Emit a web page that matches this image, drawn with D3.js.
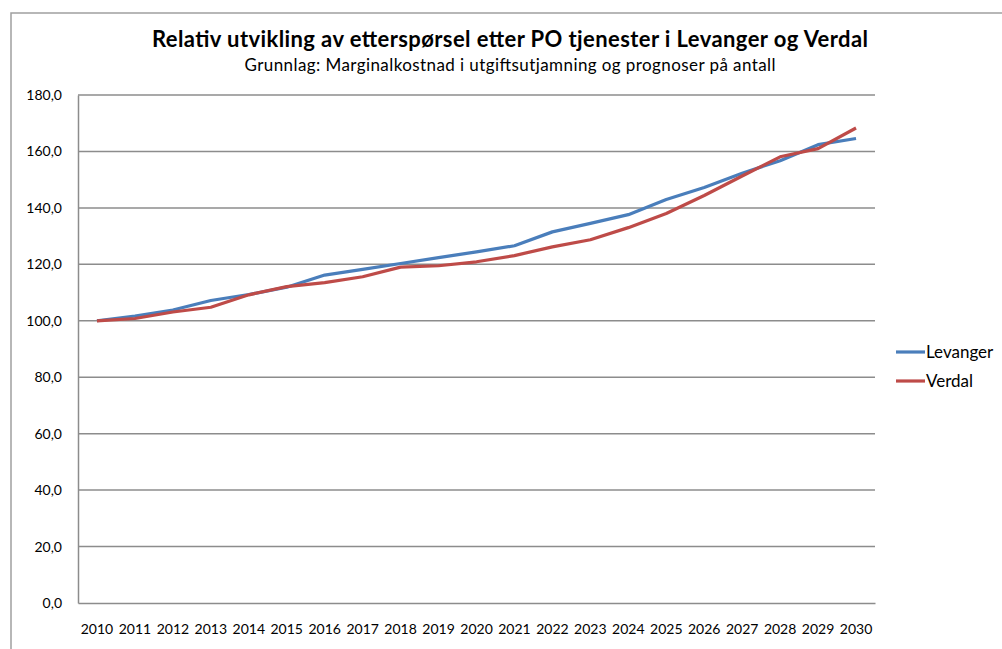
<!DOCTYPE html>
<html>
<head>
<meta charset="utf-8">
<script src="https://cdn.jsdelivr.net/npm/d3@7"></script>
<style>
  body { margin: 0; background: #fff; }
  text { font-family: Lato, "Open Sans", sans-serif; }
</style>
</head>
<body>
<svg width="1002" height="649"></svg>
<script>
// data (index, base 2010 = 100)
var years = ["2010","2011","2012","2013","2014","2015","2016","2017","2018","2019","2020",
             "2021","2022","2023","2024","2025","2026","2027","2028","2029","2030"];
var levanger = [100, 101.7, 103.8, 107.2, 109.3, 111.9, 116.2, 118.2, 120.3, 122.4, 124.4,
                126.6, 131.5, 134.5, 137.6, 143.0, 147.2, 152.3, 156.7, 162.4, 164.6];
var verdal = [100, 100.8, 103.1, 104.8, 109.2, 112.1, 113.5, 115.6, 119.0, 119.5, 120.9,
              123.1, 126.2, 128.7, 133.0, 138.0, 144.4, 151.3, 158.1, 161.0, 168.3];
var yTicks = [0, 20, 40, 60, 80, 100, 120, 140, 160, 180];
var seriesNames = ["Levanger", "Verdal"];
var colors = ["#4a7ebb", "#be4b48"];

var svg = d3.select("svg");
var plotLeft = 78, plotRight = 875, plotTop = 95, plotBottom = 603;

// outer chart frame (runs off the picture right/bottom)
svg.append("path")
    .attr("d", "M11,660 L11,13 L1010,13")
    .attr("fill", "none")
    .attr("stroke", "#a0a0a0")
    .attr("stroke-width", 1.5);

var x = d3.scaleBand().domain(years).range([plotLeft, plotRight]);
var y = d3.scaleLinear().domain([0, 180]).range([plotBottom, plotTop]);

var fmt = function(d) { return d3.format(".1f")(d).replace(".", ","); };

// gridlines
svg.append("g")
  .selectAll("line")
  .data(yTicks.filter(function(d) { return d > 0; }))
  .enter().append("line")
    .attr("x1", plotLeft).attr("x2", plotRight)
    .attr("y1", function(d) { return y(d); })
    .attr("y2", function(d) { return y(d); })
    .attr("stroke", "#8c8c8c")
    .attr("stroke-width", 1.5);

// y axis
var yAxis = svg.append("g")
    .attr("transform", "translate(" + plotLeft + ",0)")
    .call(d3.axisLeft(y).tickValues(yTicks).tickFormat(fmt).tickSize(0).tickPadding(16));
yAxis.select(".domain").attr("stroke", "#8c8c8c").attr("stroke-width", 1.5);
yAxis.selectAll("text").attr("font-size", 14).attr("fill", "#000");

// x axis
var xAxis = svg.append("g")
    .attr("transform", "translate(0," + plotBottom + ")")
    .call(d3.axisBottom(x).tickSize(0).tickPadding(21));
xAxis.select(".domain").attr("stroke", "#8c8c8c").attr("stroke-width", 1.5);
xAxis.selectAll("text").attr("font-size", 14).attr("fill", "#000");

// lines
var line = d3.line()
    .x(function(d, i) { return x(years[i]) + x.bandwidth() / 2; })
    .y(function(d) { return y(d); });

[levanger, verdal].forEach(function(s, i) {
  svg.append("path")
      .datum(s)
      .attr("fill", "none")
      .attr("stroke", colors[i])
      .attr("stroke-width", 3.2)
      .attr("stroke-linejoin", "round")
      .attr("d", line);
});

// legend
var legend = svg.append("g")
  .selectAll("g")
  .data(seriesNames)
  .enter().append("g")
    .attr("transform", function(d, i) { return "translate(896," + (352 + i * 29) + ")"; });
legend.append("line")
    .attr("x1", 0).attr("x2", 29)
    .attr("stroke", function(d, i) { return colors[i]; })
    .attr("stroke-width", 3.2);
legend.append("text")
    .attr("x", 30).attr("dy", "0.35em")
    .attr("font-size", 17)
    .text(function(d) { return d; });

// titles
svg.append("text")
    .attr("x", 510).attr("y", 47)
    .attr("text-anchor", "middle")
    .attr("font-size", 22).attr("font-weight", "bold")
    .attr("textLength", 716)
    .text("Relativ utvikling av etterspørsel etter PO tjenester i Levanger og Verdal");
svg.append("text")
    .attr("x", 510).attr("y", 71)
    .attr("text-anchor", "middle")
    .attr("font-size", 17)
    .attr("textLength", 531)
    .text("Grunnlag: Marginalkostnad i utgiftsutjamning og prognoser på antall");
</script>
</body>
</html>
